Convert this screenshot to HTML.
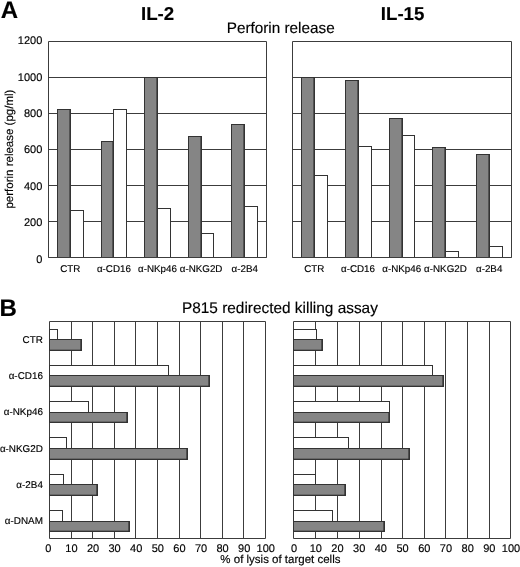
<!DOCTYPE html>
<html><head><meta charset="utf-8"><title>Figure</title>
<style>
html,body{margin:0;padding:0;background:#fff;}
svg{display:block;font-family:"Liberation Sans", sans-serif;}
text{text-rendering:geometricPrecision;fill:#000;stroke:#000;stroke-width:0.15px;}
</style></head><body>
<svg width="520" height="567" viewBox="0 0 520 567" shape-rendering="auto">
<rect x="0" y="0" width="520" height="567" fill="#ffffff"/>
<rect x="48.5" y="41.5" width="218.0" height="216.0" fill="#fff"/>
<line x1="48.5" y1="257.5" x2="266.5" y2="257.5" stroke="#3c3c3c" stroke-width="1"/>
<line x1="48.5" y1="221.5" x2="266.5" y2="221.5" stroke="#3c3c3c" stroke-width="1"/>
<line x1="48.5" y1="185.5" x2="266.5" y2="185.5" stroke="#3c3c3c" stroke-width="1"/>
<line x1="48.5" y1="149.5" x2="266.5" y2="149.5" stroke="#3c3c3c" stroke-width="1"/>
<line x1="48.5" y1="113.5" x2="266.5" y2="113.5" stroke="#3c3c3c" stroke-width="1"/>
<line x1="48.5" y1="77.5" x2="266.5" y2="77.5" stroke="#3c3c3c" stroke-width="1"/>
<line x1="48.5" y1="41.5" x2="266.5" y2="41.5" stroke="#3c3c3c" stroke-width="1"/>
<rect x="57.50" y="109.50" width="13.00" height="148.00" fill="#858585" stroke="#333333" stroke-width="1"/>
<line x1="69.5" y1="109.5" x2="69.5" y2="257.5" stroke="#2a2a2a" stroke-opacity="0.55" stroke-width="1"/>
<rect x="70.50" y="210.50" width="13.00" height="47.00" fill="#fff" stroke="#333333" stroke-width="1"/>
<rect x="101.50" y="141.50" width="12.00" height="116.00" fill="#858585" stroke="#333333" stroke-width="1"/>
<line x1="112.5" y1="141.5" x2="112.5" y2="257.5" stroke="#2a2a2a" stroke-opacity="0.55" stroke-width="1"/>
<rect x="113.50" y="109.50" width="13.00" height="148.00" fill="#fff" stroke="#333333" stroke-width="1"/>
<rect x="144.50" y="77.50" width="13.00" height="180.00" fill="#858585" stroke="#333333" stroke-width="1"/>
<line x1="156.5" y1="77.5" x2="156.5" y2="257.5" stroke="#2a2a2a" stroke-opacity="0.55" stroke-width="1"/>
<rect x="157.50" y="208.50" width="13.00" height="49.00" fill="#fff" stroke="#333333" stroke-width="1"/>
<rect x="188.50" y="136.50" width="13.00" height="121.00" fill="#858585" stroke="#333333" stroke-width="1"/>
<line x1="200.5" y1="136.5" x2="200.5" y2="257.5" stroke="#2a2a2a" stroke-opacity="0.55" stroke-width="1"/>
<rect x="201.50" y="233.50" width="12.00" height="24.00" fill="#fff" stroke="#333333" stroke-width="1"/>
<rect x="231.50" y="124.50" width="13.00" height="133.00" fill="#858585" stroke="#333333" stroke-width="1"/>
<line x1="243.5" y1="124.5" x2="243.5" y2="257.5" stroke="#2a2a2a" stroke-opacity="0.55" stroke-width="1"/>
<rect x="244.50" y="206.50" width="13.00" height="51.00" fill="#fff" stroke="#333333" stroke-width="1"/>
<line x1="48.5" y1="41.5" x2="48.5" y2="257.5" stroke="#3c3c3c" stroke-width="1"/>
<line x1="266.5" y1="41.5" x2="266.5" y2="257.5" stroke="#3c3c3c" stroke-width="1"/>
<line x1="48.5" y1="257.5" x2="266.5" y2="257.5" stroke="#3c3c3c" stroke-width="1"/>
<text x="70.3" y="272.2" font-size="9.8" text-anchor="middle" font-weight="normal" >CTR</text>
<text x="113.9" y="272.2" font-size="9.8" text-anchor="middle" font-weight="normal" >α-CD16</text>
<text x="157.5" y="272.2" font-size="9.8" text-anchor="middle" font-weight="normal" >α-NKp46</text>
<text x="201.1" y="272.2" font-size="9.8" text-anchor="middle" font-weight="normal" >α-NKG2D</text>
<text x="244.7" y="272.2" font-size="9.8" text-anchor="middle" font-weight="normal" >α-2B4</text>
<text x="42.3" y="262.5" font-size="11" text-anchor="end" font-weight="normal" >0</text>
<text x="42.3" y="226.15" font-size="11" text-anchor="end" font-weight="normal" >200</text>
<text x="42.3" y="189.8" font-size="11" text-anchor="end" font-weight="normal" >400</text>
<text x="42.3" y="153.45" font-size="11" text-anchor="end" font-weight="normal" >600</text>
<text x="42.3" y="117.1" font-size="11" text-anchor="end" font-weight="normal" >800</text>
<text x="42.3" y="80.75" font-size="11" text-anchor="end" font-weight="normal" >1000</text>
<text x="42.3" y="44.4" font-size="11" text-anchor="end" font-weight="normal" >1200</text>
<rect x="292.5" y="41.5" width="218.5" height="216.0" fill="#fff"/>
<line x1="292.5" y1="257.5" x2="511.5" y2="257.5" stroke="#3c3c3c" stroke-width="1"/>
<line x1="292.5" y1="221.5" x2="511.5" y2="221.5" stroke="#3c3c3c" stroke-width="1"/>
<line x1="292.5" y1="185.5" x2="511.5" y2="185.5" stroke="#3c3c3c" stroke-width="1"/>
<line x1="292.5" y1="149.5" x2="511.5" y2="149.5" stroke="#3c3c3c" stroke-width="1"/>
<line x1="292.5" y1="113.5" x2="511.5" y2="113.5" stroke="#3c3c3c" stroke-width="1"/>
<line x1="292.5" y1="77.5" x2="511.5" y2="77.5" stroke="#3c3c3c" stroke-width="1"/>
<line x1="292.5" y1="41.5" x2="511.5" y2="41.5" stroke="#3c3c3c" stroke-width="1"/>
<rect x="301.50" y="77.50" width="13.00" height="180.00" fill="#858585" stroke="#333333" stroke-width="1"/>
<line x1="313.5" y1="77.5" x2="313.5" y2="257.5" stroke="#2a2a2a" stroke-opacity="0.55" stroke-width="1"/>
<rect x="314.50" y="175.50" width="13.00" height="82.00" fill="#fff" stroke="#333333" stroke-width="1"/>
<rect x="345.50" y="80.50" width="13.00" height="177.00" fill="#858585" stroke="#333333" stroke-width="1"/>
<line x1="357.5" y1="80.5" x2="357.5" y2="257.5" stroke="#2a2a2a" stroke-opacity="0.55" stroke-width="1"/>
<rect x="358.50" y="146.50" width="13.00" height="111.00" fill="#fff" stroke="#333333" stroke-width="1"/>
<rect x="389.50" y="118.50" width="13.00" height="139.00" fill="#858585" stroke="#333333" stroke-width="1"/>
<line x1="401.5" y1="118.5" x2="401.5" y2="257.5" stroke="#2a2a2a" stroke-opacity="0.55" stroke-width="1"/>
<rect x="402.50" y="135.50" width="12.00" height="122.00" fill="#fff" stroke="#333333" stroke-width="1"/>
<rect x="432.50" y="147.50" width="13.00" height="110.00" fill="#858585" stroke="#333333" stroke-width="1"/>
<line x1="444.5" y1="147.5" x2="444.5" y2="257.5" stroke="#2a2a2a" stroke-opacity="0.55" stroke-width="1"/>
<rect x="445.50" y="251.50" width="13.00" height="6.00" fill="#fff" stroke="#333333" stroke-width="1"/>
<rect x="476.50" y="154.50" width="13.00" height="103.00" fill="#858585" stroke="#333333" stroke-width="1"/>
<line x1="488.5" y1="154.5" x2="488.5" y2="257.5" stroke="#2a2a2a" stroke-opacity="0.55" stroke-width="1"/>
<rect x="489.50" y="246.50" width="13.00" height="11.00" fill="#fff" stroke="#333333" stroke-width="1"/>
<line x1="292.5" y1="41.5" x2="292.5" y2="257.5" stroke="#3c3c3c" stroke-width="1"/>
<line x1="511.5" y1="41.5" x2="511.5" y2="257.5" stroke="#3c3c3c" stroke-width="1"/>
<line x1="292.5" y1="257.5" x2="511.5" y2="257.5" stroke="#3c3c3c" stroke-width="1"/>
<text x="314.35" y="272.2" font-size="9.8" text-anchor="middle" font-weight="normal" >CTR</text>
<text x="358.05" y="272.2" font-size="9.8" text-anchor="middle" font-weight="normal" >α-CD16</text>
<text x="401.75" y="272.2" font-size="9.8" text-anchor="middle" font-weight="normal" >α-NKp46</text>
<text x="445.45" y="272.2" font-size="9.8" text-anchor="middle" font-weight="normal" >α-NKG2D</text>
<text x="489.15" y="272.2" font-size="9.8" text-anchor="middle" font-weight="normal" >α-2B4</text>
<text x="0.7" y="18" font-size="24" text-anchor="start" font-weight="bold" >A</text>
<text x="157.6" y="20" font-size="18.7" text-anchor="middle" font-weight="bold" >IL-2</text>
<text x="402.6" y="20" font-size="18.7" text-anchor="middle" font-weight="bold" >IL-15</text>
<text x="226.7" y="33.2" font-size="15.3" text-anchor="start" font-weight="normal" >Perforin release</text>
<text transform="translate(12.6,149.1) rotate(-90)" font-size="11.5" text-anchor="middle">perforin release (pg/ml)</text>
<rect x="49.5" y="321.5" width="216.0" height="216.5" fill="#fff"/>
<line x1="49.5" y1="321.5" x2="49.5" y2="538.5" stroke="#3c3c3c" stroke-width="1"/>
<line x1="71.5" y1="321.5" x2="71.5" y2="538.5" stroke="#3c3c3c" stroke-width="1"/>
<line x1="92.5" y1="321.5" x2="92.5" y2="538.5" stroke="#3c3c3c" stroke-width="1"/>
<line x1="114.5" y1="321.5" x2="114.5" y2="538.5" stroke="#3c3c3c" stroke-width="1"/>
<line x1="135.5" y1="321.5" x2="135.5" y2="538.5" stroke="#3c3c3c" stroke-width="1"/>
<line x1="157.5" y1="321.5" x2="157.5" y2="538.5" stroke="#3c3c3c" stroke-width="1"/>
<line x1="179.5" y1="321.5" x2="179.5" y2="538.5" stroke="#3c3c3c" stroke-width="1"/>
<line x1="200.5" y1="321.5" x2="200.5" y2="538.5" stroke="#3c3c3c" stroke-width="1"/>
<line x1="222.5" y1="321.5" x2="222.5" y2="538.5" stroke="#3c3c3c" stroke-width="1"/>
<line x1="243.5" y1="321.5" x2="243.5" y2="538.5" stroke="#3c3c3c" stroke-width="1"/>
<line x1="265.5" y1="321.5" x2="265.5" y2="538.5" stroke="#3c3c3c" stroke-width="1"/>
<line x1="49.5" y1="321.5" x2="265.5" y2="321.5" stroke="#3c3c3c" stroke-width="1"/>
<line x1="49.5" y1="538.5" x2="265.5" y2="538.5" stroke="#3c3c3c" stroke-width="1"/>
<rect x="49.50" y="329.50" width="8.00" height="10.00" fill="#fff" stroke="#333333" stroke-width="1"/>
<rect x="49.50" y="339.50" width="32.00" height="11.00" fill="#858585" stroke="#333333" stroke-width="1"/>
<line x1="80.5" y1="339.5" x2="80.5" y2="350.5" stroke="#2a2a2a" stroke-opacity="0.6" stroke-width="1"/>
<line x1="49.5" y1="349.5" x2="81.5" y2="349.5" stroke="#2a2a2a" stroke-opacity="0.3" stroke-width="1"/>
<rect x="49.50" y="365.50" width="119.00" height="10.00" fill="#fff" stroke="#333333" stroke-width="1"/>
<rect x="49.50" y="375.50" width="160.00" height="11.00" fill="#858585" stroke="#333333" stroke-width="1"/>
<line x1="208.5" y1="375.5" x2="208.5" y2="386.5" stroke="#2a2a2a" stroke-opacity="0.6" stroke-width="1"/>
<line x1="49.5" y1="385.5" x2="209.5" y2="385.5" stroke="#2a2a2a" stroke-opacity="0.3" stroke-width="1"/>
<rect x="49.50" y="401.50" width="39.00" height="11.00" fill="#fff" stroke="#333333" stroke-width="1"/>
<rect x="49.50" y="412.50" width="78.00" height="10.00" fill="#858585" stroke="#333333" stroke-width="1"/>
<line x1="126.5" y1="412.5" x2="126.5" y2="422.5" stroke="#2a2a2a" stroke-opacity="0.6" stroke-width="1"/>
<line x1="49.5" y1="421.5" x2="127.5" y2="421.5" stroke="#2a2a2a" stroke-opacity="0.3" stroke-width="1"/>
<rect x="49.50" y="437.50" width="17.00" height="11.00" fill="#fff" stroke="#333333" stroke-width="1"/>
<rect x="49.50" y="448.50" width="138.00" height="11.00" fill="#858585" stroke="#333333" stroke-width="1"/>
<line x1="186.5" y1="448.5" x2="186.5" y2="459.5" stroke="#2a2a2a" stroke-opacity="0.6" stroke-width="1"/>
<line x1="49.5" y1="458.5" x2="187.5" y2="458.5" stroke="#2a2a2a" stroke-opacity="0.3" stroke-width="1"/>
<rect x="49.50" y="474.50" width="14.00" height="10.00" fill="#fff" stroke="#333333" stroke-width="1"/>
<rect x="49.50" y="484.50" width="48.00" height="11.00" fill="#858585" stroke="#333333" stroke-width="1"/>
<line x1="96.5" y1="484.5" x2="96.5" y2="495.5" stroke="#2a2a2a" stroke-opacity="0.6" stroke-width="1"/>
<line x1="49.5" y1="494.5" x2="97.5" y2="494.5" stroke="#2a2a2a" stroke-opacity="0.3" stroke-width="1"/>
<rect x="49.50" y="510.50" width="13.00" height="11.00" fill="#fff" stroke="#333333" stroke-width="1"/>
<rect x="49.50" y="521.50" width="80.00" height="10.00" fill="#858585" stroke="#333333" stroke-width="1"/>
<line x1="128.5" y1="521.5" x2="128.5" y2="531.5" stroke="#2a2a2a" stroke-opacity="0.6" stroke-width="1"/>
<line x1="49.5" y1="530.5" x2="129.5" y2="530.5" stroke="#2a2a2a" stroke-opacity="0.3" stroke-width="1"/>
<text x="48.4" y="551.5" font-size="11" text-anchor="middle" font-weight="normal" >0</text>
<text x="71.4" y="551.5" font-size="11" text-anchor="middle" font-weight="normal" >10</text>
<text x="93.0" y="551.5" font-size="11" text-anchor="middle" font-weight="normal" >20</text>
<text x="114.6" y="551.5" font-size="11" text-anchor="middle" font-weight="normal" >30</text>
<text x="136.2" y="551.5" font-size="11" text-anchor="middle" font-weight="normal" >40</text>
<text x="157.8" y="551.5" font-size="11" text-anchor="middle" font-weight="normal" >50</text>
<text x="179.4" y="551.5" font-size="11" text-anchor="middle" font-weight="normal" >60</text>
<text x="201.0" y="551.5" font-size="11" text-anchor="middle" font-weight="normal" >70</text>
<text x="222.6" y="551.5" font-size="11" text-anchor="middle" font-weight="normal" >80</text>
<text x="244.2" y="551.5" font-size="11" text-anchor="middle" font-weight="normal" >90</text>
<text x="265.8" y="551.5" font-size="11" text-anchor="middle" font-weight="normal" >100</text>
<text x="42.9" y="342.9" font-size="9.9" text-anchor="end" font-weight="normal" >CTR</text>
<text x="42.9" y="378.8" font-size="9.9" text-anchor="end" font-weight="normal" >α-CD16</text>
<text x="42.9" y="414.5" font-size="9.9" text-anchor="end" font-weight="normal" >α-NKp46</text>
<text x="42.9" y="451.9" font-size="9.9" text-anchor="end" font-weight="normal" >α-NKG2D</text>
<text x="42.9" y="487.6" font-size="9.9" text-anchor="end" font-weight="normal" >α-2B4</text>
<text x="42.9" y="524.4" font-size="9.9" text-anchor="end" font-weight="normal" >α-DNAM</text>
<rect x="293.75" y="321.5" width="217.0" height="216.5" fill="#fff"/>
<line x1="293.5" y1="321.5" x2="293.5" y2="538.5" stroke="#3c3c3c" stroke-width="1"/>
<line x1="315.5" y1="321.5" x2="315.5" y2="538.5" stroke="#3c3c3c" stroke-width="1"/>
<line x1="337.5" y1="321.5" x2="337.5" y2="538.5" stroke="#3c3c3c" stroke-width="1"/>
<line x1="359.5" y1="321.5" x2="359.5" y2="538.5" stroke="#3c3c3c" stroke-width="1"/>
<line x1="381.5" y1="321.5" x2="381.5" y2="538.5" stroke="#3c3c3c" stroke-width="1"/>
<line x1="402.5" y1="321.5" x2="402.5" y2="538.5" stroke="#3c3c3c" stroke-width="1"/>
<line x1="424.5" y1="321.5" x2="424.5" y2="538.5" stroke="#3c3c3c" stroke-width="1"/>
<line x1="445.5" y1="321.5" x2="445.5" y2="538.5" stroke="#3c3c3c" stroke-width="1"/>
<line x1="467.5" y1="321.5" x2="467.5" y2="538.5" stroke="#3c3c3c" stroke-width="1"/>
<line x1="489.5" y1="321.5" x2="489.5" y2="538.5" stroke="#3c3c3c" stroke-width="1"/>
<line x1="510.5" y1="321.5" x2="510.5" y2="538.5" stroke="#3c3c3c" stroke-width="1"/>
<line x1="293.5" y1="321.5" x2="510.5" y2="321.5" stroke="#3c3c3c" stroke-width="1"/>
<line x1="293.5" y1="538.5" x2="510.5" y2="538.5" stroke="#3c3c3c" stroke-width="1"/>
<rect x="293.50" y="329.50" width="23.00" height="10.00" fill="#fff" stroke="#333333" stroke-width="1"/>
<rect x="293.50" y="339.50" width="29.00" height="11.00" fill="#858585" stroke="#333333" stroke-width="1"/>
<line x1="321.5" y1="339.5" x2="321.5" y2="350.5" stroke="#2a2a2a" stroke-opacity="0.6" stroke-width="1"/>
<line x1="293.5" y1="349.5" x2="322.5" y2="349.5" stroke="#2a2a2a" stroke-opacity="0.3" stroke-width="1"/>
<rect x="293.50" y="365.50" width="139.00" height="10.00" fill="#fff" stroke="#333333" stroke-width="1"/>
<rect x="293.50" y="375.50" width="150.00" height="11.00" fill="#858585" stroke="#333333" stroke-width="1"/>
<line x1="442.5" y1="375.5" x2="442.5" y2="386.5" stroke="#2a2a2a" stroke-opacity="0.6" stroke-width="1"/>
<line x1="293.5" y1="385.5" x2="443.5" y2="385.5" stroke="#2a2a2a" stroke-opacity="0.3" stroke-width="1"/>
<rect x="293.50" y="401.50" width="96.00" height="11.00" fill="#fff" stroke="#333333" stroke-width="1"/>
<rect x="293.50" y="412.50" width="96.00" height="10.00" fill="#858585" stroke="#333333" stroke-width="1"/>
<line x1="388.5" y1="412.5" x2="388.5" y2="422.5" stroke="#2a2a2a" stroke-opacity="0.6" stroke-width="1"/>
<line x1="293.5" y1="421.5" x2="389.5" y2="421.5" stroke="#2a2a2a" stroke-opacity="0.3" stroke-width="1"/>
<rect x="293.50" y="437.50" width="55.00" height="11.00" fill="#fff" stroke="#333333" stroke-width="1"/>
<rect x="293.50" y="448.50" width="116.00" height="11.00" fill="#858585" stroke="#333333" stroke-width="1"/>
<line x1="408.5" y1="448.5" x2="408.5" y2="459.5" stroke="#2a2a2a" stroke-opacity="0.6" stroke-width="1"/>
<line x1="293.5" y1="458.5" x2="409.5" y2="458.5" stroke="#2a2a2a" stroke-opacity="0.3" stroke-width="1"/>
<rect x="293.50" y="474.50" width="22.00" height="10.00" fill="#fff" stroke="#333333" stroke-width="1"/>
<rect x="293.50" y="484.50" width="52.00" height="11.00" fill="#858585" stroke="#333333" stroke-width="1"/>
<line x1="344.5" y1="484.5" x2="344.5" y2="495.5" stroke="#2a2a2a" stroke-opacity="0.6" stroke-width="1"/>
<line x1="293.5" y1="494.5" x2="345.5" y2="494.5" stroke="#2a2a2a" stroke-opacity="0.3" stroke-width="1"/>
<rect x="293.50" y="510.50" width="39.00" height="11.00" fill="#fff" stroke="#333333" stroke-width="1"/>
<rect x="293.50" y="521.50" width="91.00" height="10.00" fill="#858585" stroke="#333333" stroke-width="1"/>
<line x1="383.5" y1="521.5" x2="383.5" y2="531.5" stroke="#2a2a2a" stroke-opacity="0.6" stroke-width="1"/>
<line x1="293.5" y1="530.5" x2="384.5" y2="530.5" stroke="#2a2a2a" stroke-opacity="0.3" stroke-width="1"/>
<text x="294.05" y="551.5" font-size="11" text-anchor="middle" font-weight="normal" >0</text>
<text x="315.75" y="551.5" font-size="11" text-anchor="middle" font-weight="normal" >10</text>
<text x="337.45" y="551.5" font-size="11" text-anchor="middle" font-weight="normal" >20</text>
<text x="359.15" y="551.5" font-size="11" text-anchor="middle" font-weight="normal" >30</text>
<text x="380.85" y="551.5" font-size="11" text-anchor="middle" font-weight="normal" >40</text>
<text x="402.55" y="551.5" font-size="11" text-anchor="middle" font-weight="normal" >50</text>
<text x="424.25" y="551.5" font-size="11" text-anchor="middle" font-weight="normal" >60</text>
<text x="445.95" y="551.5" font-size="11" text-anchor="middle" font-weight="normal" >70</text>
<text x="467.65" y="551.5" font-size="11" text-anchor="middle" font-weight="normal" >80</text>
<text x="489.35" y="551.5" font-size="11" text-anchor="middle" font-weight="normal" >90</text>
<text x="511.05" y="551.5" font-size="11" text-anchor="middle" font-weight="normal" >100</text>
<text x="-0.4" y="315.7" font-size="24" text-anchor="start" font-weight="bold" >B</text>
<text x="279.9" y="313.2" font-size="15.4" text-anchor="middle" font-weight="normal" >P815 redirected killing assay</text>
<text x="280.4" y="563.3" font-size="11.5" text-anchor="middle" font-weight="normal" >% of lysis of target cells</text>
</svg>
</body></html>
